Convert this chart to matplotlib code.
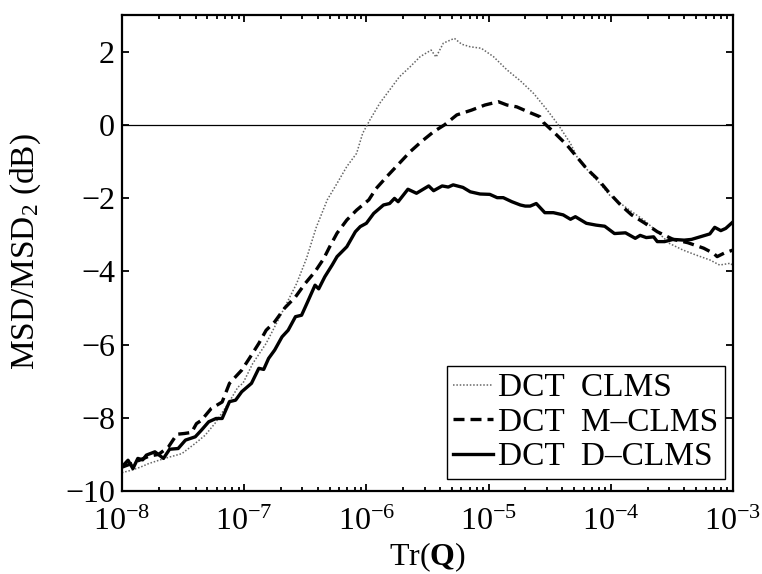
import numpy as np
import matplotlib
matplotlib.use("Agg")
import matplotlib.pyplot as plt

plt.rcParams['font.family'] = ['Liberation Serif', 'DejaVu Serif']
plt.rcParams['mathtext.fontset'] = 'custom'
plt.rcParams['mathtext.rm'] = 'Liberation Serif'
plt.rcParams['mathtext.it'] = 'Liberation Serif:italic'
plt.rcParams['mathtext.bf'] = 'Liberation Serif:bold'

# ---- data: log10(Tr(Q)) exponents and MSD/MSD2 (dB) ----
clms_logq = [-8.00, -7.92, -7.85, -7.78, -7.65, -7.51, -7.40, -7.32, -7.24, -7.13,
             -7.05, -7.01, -6.93, -6.82, -6.68, -6.57, -6.49, -6.41, -6.32, -6.24,
             -6.16, -6.08, -6.03, -5.97, -5.89, -5.81, -5.73, -5.64, -5.56, -5.47,
             -5.43, -5.37, -5.28, -5.22, -5.15, -5.06, -4.96, -4.85, -4.74, -4.63,
             -4.52, -4.43, -4.33, -4.27, -4.18, -4.09, -4.01, -3.92, -3.83, -3.73,
             -3.62, -3.52, -3.41, -3.30, -3.19, -3.11, -3.02, -3.00]
clms_db = [-9.50, -9.43, -9.35, -9.25, -9.11, -8.98, -8.70, -8.48, -8.16, -7.61,
           -7.16, -7.06, -6.52, -5.97, -5.06, -4.33, -3.65, -2.80, -2.05, -1.60,
           -1.14, -0.78, -0.23, 0.14, 0.59, 0.95, 1.31, 1.59, 1.86, 2.04,
           1.85, 2.23, 2.36, 2.20, 2.13, 2.09, 1.86, 1.50, 1.20, 0.85,
           0.40, 0.00, -0.51, -0.92, -1.28, -1.60, -1.92, -2.15, -2.37, -2.60,
           -2.92, -3.24, -3.42, -3.56, -3.69, -3.83, -3.78, -3.85]

mclms_logq = [-8.00, -7.92, -7.85, -7.78, -7.70, -7.62, -7.55, -7.49, -7.43, -7.39,
              -7.35, -7.27, -7.18, -7.12, -7.02, -6.95, -6.88, -6.82, -6.75, -6.67,
              -6.58, -6.50, -6.42, -6.35, -6.30, -6.24, -6.16, -6.08, -5.98, -5.92,
              -5.82, -5.73, -5.64, -5.55, -5.45, -5.36, -5.26, -5.14, -5.03, -4.92,
              -4.85, -4.77, -4.66, -4.58, -4.55, -4.47, -4.36, -4.28, -4.20, -4.10,
              -4.01, -3.92, -3.83, -3.72, -3.62, -3.49, -3.37, -3.24, -3.16, -3.13,
              -3.07, -3.00]
mclms_db = [-9.35, -9.25, -9.15, -9.05, -9.00, -8.80, -8.45, -8.43, -8.40, -8.16,
            -8.07, -7.75, -7.57, -7.06, -6.70, -6.34, -5.97, -5.61, -5.38, -5.01,
            -4.70, -4.33, -4.01, -3.66, -3.33, -2.96, -2.60, -2.33, -2.05, -1.74,
            -1.37, -1.05, -0.73, -0.46, -0.19, 0.00, 0.27, 0.40, 0.54, 0.63,
            0.54, 0.49, 0.33, 0.22, 0.06, -0.19, -0.55, -0.87, -1.19, -1.51,
            -1.87, -2.19, -2.46, -2.69, -2.92, -3.13, -3.22, -3.37, -3.51, -3.60,
            -3.50, -3.42]

dclms_logq = [-8.00, -7.95, -7.91, -7.87, -7.83, -7.80, -7.73, -7.66, -7.61, -7.54,
              -7.48, -7.40, -7.35, -7.29, -7.23, -7.18, -7.12, -7.07, -7.02, -6.94,
              -6.88, -6.84, -6.80, -6.75, -6.69, -6.64, -6.58, -6.53, -6.48, -6.42,
              -6.39, -6.34, -6.28, -6.24, -6.16, -6.09, -6.05, -6.00, -5.94, -5.86,
              -5.81, -5.77, -5.74, -5.66, -5.59, -5.49, -5.45, -5.38, -5.33, -5.29,
              -5.21, -5.15, -5.07, -4.99, -4.93, -4.88, -4.81, -4.74, -4.70, -4.66,
              -4.61, -4.54, -4.47, -4.39, -4.33, -4.29, -4.20, -4.12, -4.05, -3.97,
              -3.88, -3.80, -3.76, -3.71, -3.65, -3.62, -3.56, -3.49, -3.40, -3.34,
              -3.27, -3.19, -3.15, -3.10, -3.06, -3.00]
dclms_db = [-9.34, -9.16, -9.39, -9.11, -9.15, -9.02, -8.93, -9.11, -8.86, -8.84,
            -8.61, -8.52, -8.34, -8.11, -8.02, -8.02, -7.56, -7.52, -7.29, -7.06,
            -6.65, -6.68, -6.38, -6.15, -5.79, -5.61, -5.24, -5.20, -4.83, -4.38,
            -4.48, -4.15, -3.83, -3.60, -3.33, -2.92, -2.78, -2.69, -2.42, -2.19,
            -2.15, -2.01, -2.10, -1.76, -1.87, -1.67, -1.80, -1.67, -1.70, -1.64,
            -1.71, -1.83, -1.89, -1.90, -1.99, -1.99, -2.10, -2.19, -2.22, -2.22,
            -2.15, -2.40, -2.40, -2.46, -2.58, -2.51, -2.69, -2.74, -2.77, -2.97,
            -2.95, -3.10, -3.02, -3.08, -3.06, -3.19, -3.19, -3.13, -3.15, -3.13,
            -3.06, -2.98, -2.80, -2.89, -2.83, -2.65]

labels = ['DCT  CLMS', 'DCT  M\u2013CLMS', 'DCT  D\u2013CLMS']
yticks = [-10, -8, -6, -4, -2, 0, 2]
xlim = (1e-8, 1e-3)
ylim = (-10, 3)

fig = plt.figure(figsize=(7.62, 5.74), dpi=100)
ax = fig.add_axes([0.160, 0.1446, 0.802, 0.8294])

q1 = 10.0 ** np.array(clms_logq)
q2 = 10.0 ** np.array(mclms_logq)
q3 = 10.0 ** np.array(dclms_logq)

ax.axhline(0, color='black', lw=0.9, zorder=1)
ax.plot(q1, clms_db, linestyle=(0, (1.0, 1.2)), color='#666666', lw=1.1, label=labels[0])
ax.plot(q2, mclms_db, linestyle=(0, (3.3, 1.8)), color='black', lw=2.4, label=labels[1])
ax.plot(q3, dclms_db, linestyle='-', color='black', lw=2.4, label=labels[2])

ax.set_xscale('log')
ax.set_xlim(*xlim)
ax.set_ylim(*ylim)
ax.set_yticks(yticks)
ax.set_yticklabels([('\u2212' + str(-t)) if t < 0 else str(t) for t in yticks])

ax.tick_params(axis='both', which='both', direction='in', top=True, right=True,
               labelsize=23, width=1.3)
ax.tick_params(axis='both', which='major', length=5)
ax.tick_params(axis='x', which='minor', length=3)
ax.tick_params(axis='x', which='major', pad=12)
ax.tick_params(axis='y', which='major', pad=5)
for s in ax.spines.values():
    s.set_linewidth(1.6)

ax.set_xlabel(r'Tr($\mathbf{Q}$)', fontsize=23)
ax.xaxis.set_label_coords(0.5, -0.104)
ax.set_ylabel(r'MSD/MSD$_2$ (dB)', fontsize=24)
ax.yaxis.set_label_coords(-0.129, 0.503)

leg = ax.legend(loc='lower right', bbox_to_anchor=(0.987, 0.025), fontsize=24,
                frameon=True, fancybox=False, edgecolor='black', framealpha=1,
                handlelength=1.2, handletextpad=0.15, borderpad=0.2,
                labelspacing=0.12, borderaxespad=0)
leg.get_frame().set_linewidth(1.0)

fig.savefig('out.png', dpi=100)
